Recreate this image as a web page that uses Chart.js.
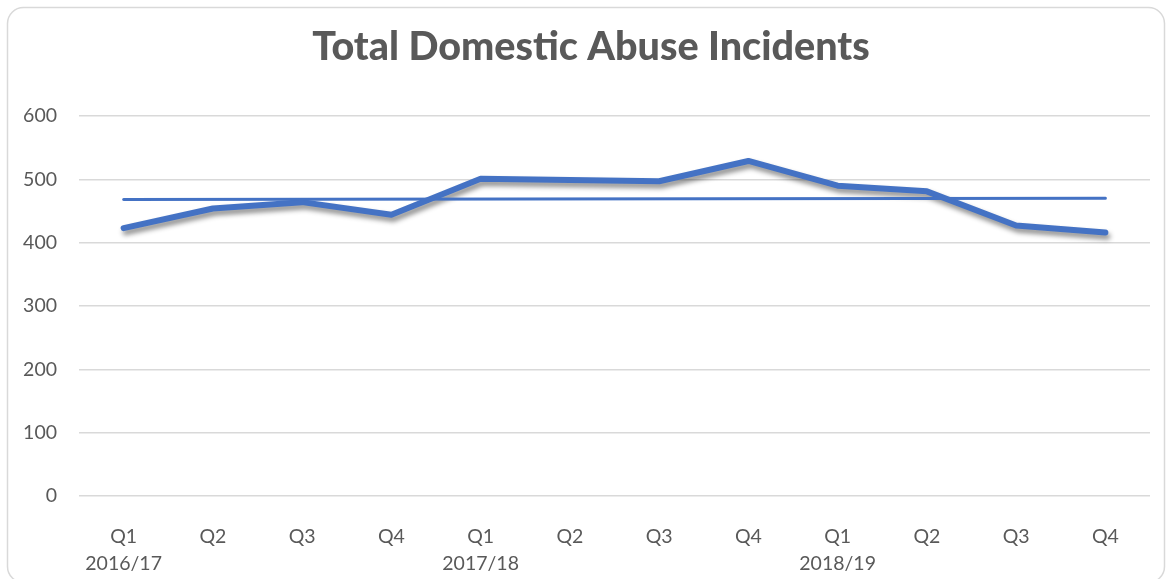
<!DOCTYPE html>
<html>
<head>
<meta charset="utf-8">
<script src="https://cdn.jsdelivr.net/npm/chart.js@4/dist/chart.umd.min.js"></script>
<style>
  html, body { margin: 0; padding: 0; background: #ffffff; }
  canvas { display: block; }
</style>
</head>
<body>
<canvas id="c" width="1170" height="579"></canvas>
<script>
const chartTitle = 'Total Domestic Abuse Incidents';
const quarters = ['Q1','Q2','Q3','Q4','Q1','Q2','Q3','Q4','Q1','Q2','Q3','Q4'];
const years = ['2016/17','','','','2017/18','','','','2018/19','','',''];
const incidents = [423, 454, 464, 444, 501, 499, 497, 529, 490, 481, 427, 416];
const trendStart = 468;
const trendEnd = 470;
const yTicks = [0, 100, 200, 300, 400, 500, 600];

const labels = quarters.map((q, i) => [q, years[i]]);
const trend = incidents.map((v, i) => i === 0 ? trendStart : (i === incidents.length - 1 ? trendEnd : null));

const textColor = '#595959';
const gridColor = '#d9d9d9';
const blue = '#4472C4';

const frame = {
  id: 'frame',
  beforeDraw(chart) {
    const ctx = chart.ctx;
    ctx.save();
    ctx.fillStyle = '#ffffff';
    ctx.fillRect(0, 0, chart.width, chart.height);
    ctx.strokeStyle = '#d9d9d9';
    ctx.lineWidth = 1.5;
    ctx.beginPath();
    ctx.roundRect(7.5, 7.5, 1157, 575, 16);
    ctx.stroke();
    ctx.restore();
  },
  afterDraw(chart) {
    const ctx = chart.ctx;
    ctx.save();
    ctx.fillStyle = textColor;
    ctx.font = '900 39.5px Lato';
    ctx.textAlign = 'center';
    ctx.textBaseline = 'middle';
    ctx.fillText(chartTitle, 591, 47);
    ctx.restore();
  },
  beforeDatasetDraw(chart, args) {
    if (args.index === 0) {
      const ctx = chart.ctx;
      ctx.save();
      ctx.shadowColor = 'rgba(0,0,0,0.45)';
      ctx.shadowBlur = 5;
      ctx.shadowOffsetX = 2;
      ctx.shadowOffsetY = 4;
    }
  },
  afterDatasetDraw(chart, args) {
    if (args.index === 0) chart.ctx.restore();
  }
};

new Chart(document.getElementById('c'), {
  type: 'line',
  data: {
    labels: labels,
    datasets: [
      {
        label: chartTitle,
        data: incidents,
        borderColor: blue,
        borderWidth: 6,
        borderCapStyle: 'round',
        borderJoinStyle: 'round',
        pointRadius: 0,
        tension: 0,
        order: 2
      },
      {
        label: 'Trend',
        data: trend,
        borderColor: blue,
        borderWidth: 3,
        borderCapStyle: 'round',
        pointRadius: 0,
        spanGaps: true,
        tension: 0,
        order: 1
      }
    ]
  },
  options: {
    responsive: false,
    animation: false,
    devicePixelRatio: 1,
    layout: { padding: { left: 0, right: 20, top: 116, bottom: 0 } },
    plugins: {
      legend: { display: false },
      tooltip: { enabled: false },
      title: { display: false }
    },
    scales: {
      x: {
        offset: true,
        grid: { display: false, drawTicks: false, offset: true },
        border: { display: false },
        ticks: {
          color: textColor,
          font: { family: 'Lato', size: 19.5, lineHeight: 1.4 },
          padding: 27,
          maxRotation: 0,
          autoSkip: false
        },
        afterFit(scale) { scale.height = 83; }
      },
      y: {
        min: 0,
        max: 600,
        afterBuildTicks(scale) { scale.ticks = yTicks.map(v => ({ value: v })); },
        grid: { color: gridColor, lineWidth: 1.5, drawTicks: false },
        border: { display: false },
        ticks: {
          color: textColor,
          font: { family: 'Lato', size: 19.5 },
          padding: 22
        },
        afterFit(scale) { scale.width = 79; }
      }
    }
  },
  plugins: [frame]
});
</script>
</body>
</html>
